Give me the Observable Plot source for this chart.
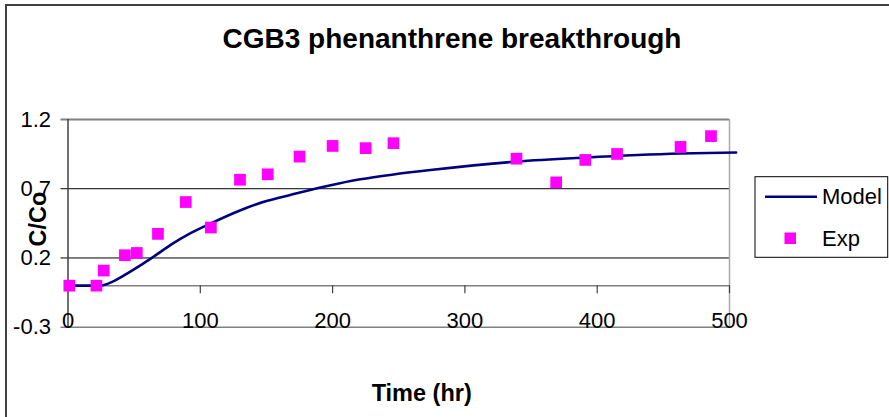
<!DOCTYPE html>
<html>
<head>
<meta charset="utf-8">
<script src="https://cdn.jsdelivr.net/npm/d3@7"></script>
<script src="https://cdn.jsdelivr.net/npm/@observablehq/plot@0.6"></script>
<style>
  html, body { margin: 0; padding: 0; background: #fff; }
  #chart svg { display: block; }
</style>
</head>
<body>
<div id="chart"></div>
<script>
// ---- data ----
const expTime = [1, 21.5, 27, 43, 52, 68, 89, 108, 130, 151, 175, 200, 225, 246, 339, 369, 391, 415, 463, 486];
const expConc = [0.0, 0.0, 0.109, 0.22, 0.236, 0.374, 0.604, 0.42, 0.765, 0.804, 0.932, 1.009, 0.993, 1.029, 0.917, 0.746, 0.908, 0.951, 1.002, 1.08];
const modelTime = [0, 20, 25, 27, 35, 42, 52, 64, 80, 93, 108, 130, 150, 168, 196, 221, 246, 274, 339, 391, 463, 505];
const modelConc = [0, 0, 0, 0.004, 0.035, 0.072, 0.13, 0.205, 0.309, 0.381, 0.45, 0.543, 0.611, 0.655, 0.72, 0.768, 0.803, 0.835, 0.896, 0.925, 0.954, 0.962];
const xTicks = [0, 100, 200, 300, 400, 500];
const yTicks = [-0.3, 0.2, 0.7, 1.2];
const titleText = "CGB3 phenanthrene breakthrough";
const xLabel = "Time (hr)";
const yLabel = "C/Co";
const seriesNames = ["Model", "Exp"];

const expData = expTime.map((t, i) => ({t, c: expConc[i]}));
const modelData = modelTime.map((t, i) => ({t, c: modelConc[i]}));

const FONT = "Arial, 'Liberation Sans', sans-serif";
const W = 889, H = 417;

const chart = Plot.plot({
  width: W,
  height: H,
  marginLeft: 67.5,
  marginRight: 160,
  marginTop: 119,
  marginBottom: 90.3,
  style: {fontFamily: FONT, fontSize: "22px", color: "#000", background: "#fff", overflow: "visible"},
  x: {domain: [0, 500], axis: null},
  y: {domain: [-0.3, 1.2], axis: null},
  marks: [
    // grid lines
    Plot.ruleY([0.2, 0.7], {stroke: "#000", strokeWidth: 1, insetLeft: -7}),
    Plot.ruleY([1.2], {stroke: "#808080", strokeWidth: 2, insetLeft: -7}),
    Plot.ruleY([-0.3], {stroke: "#808080", strokeWidth: 1.5, insetLeft: -7}),
    Plot.ruleY([0], {stroke: "#808080", strokeWidth: 1.5}),
    Plot.ruleX([500], {stroke: "#a8a8a8", strokeWidth: 1.5}),
    Plot.ruleX([0], {stroke: "#404040", strokeWidth: 1.5}),
    // x tick marks hanging below the zero line
    Plot.ruleX(xTicks.slice(1), {x: d => d, y1: 0, y2: 0, insetBottom: -8, stroke: "#404040", strokeWidth: 1.2}),
    // y tick labels
    Plot.text(yTicks, {y: d => d, frameAnchor: "left", dx: -17, text: d => String(d), textAnchor: "end", fontSize: 22, fill: "#000"}),
    // x tick labels
    Plot.text(xTicks, {x: d => d, frameAnchor: "bottom", dy: -6.5, text: d => String(d), textAnchor: "middle", lineAnchor: "middle", fontSize: 22, fill: "#000"}),
    // model line
    Plot.line(modelData, {x: "t", y: "c", stroke: "#000080", strokeWidth: 2.6, curve: "monotone-x", clip: false}),
    // experimental points
    Plot.dot(expData, {x: "t", y: "c", symbol: "square", r: 6.6, fill: "#FF00FF", stroke: "none"})
  ]
});

document.getElementById("chart").appendChild(chart);

const svg = d3.select(chart);
// outer chart frame
svg.append("rect").attr("x", 6).attr("y", 5).attr("width", W + 4).attr("height", H - 4)
  .attr("fill", "none").attr("stroke", "#404040").attr("stroke-width", 2);
// title
svg.append("text").attr("x", 452).attr("y", 48).attr("text-anchor", "middle")
  .attr("font-family", FONT).attr("font-weight", "bold").attr("font-size", 28).text(titleText);
// x label
svg.append("text").attr("x", 421.7).attr("y", 401).attr("text-anchor", "middle")
  .attr("font-family", FONT).attr("font-weight", "bold").attr("font-size", 23.5).text(xLabel);
// y label
svg.append("text").attr("transform", "translate(46,219) rotate(-90)").attr("text-anchor", "middle")
  .attr("font-family", FONT).attr("font-weight", "bold").attr("font-size", 23.5).text(yLabel);
// legend
const lg = svg.append("g");
lg.append("rect").attr("x", 755).attr("y", 176.7).attr("width", 132.7).attr("height", 80.6)
  .attr("fill", "#fff").attr("stroke", "#000").attr("stroke-width", 1);
lg.append("line").attr("x1", 765).attr("x2", 817).attr("y1", 196.7).attr("y2", 196.7)
  .attr("stroke", "#000080").attr("stroke-width", 2.6);
lg.append("rect").attr("x", 784.5).attr("y", 232.5).attr("width", 11.5).attr("height", 11.5).attr("fill", "#FF00FF");
lg.append("text").attr("x", 822).attr("y", 196.7).attr("dy", "0.35em").attr("text-anchor", "start")
  .attr("font-family", FONT).attr("font-size", 22).text(seriesNames[0]);
lg.append("text").attr("x", 822).attr("y", 238.3).attr("dy", "0.35em").attr("text-anchor", "start")
  .attr("font-family", FONT).attr("font-size", 22).text(seriesNames[1]);
</script>
</body>
</html>
